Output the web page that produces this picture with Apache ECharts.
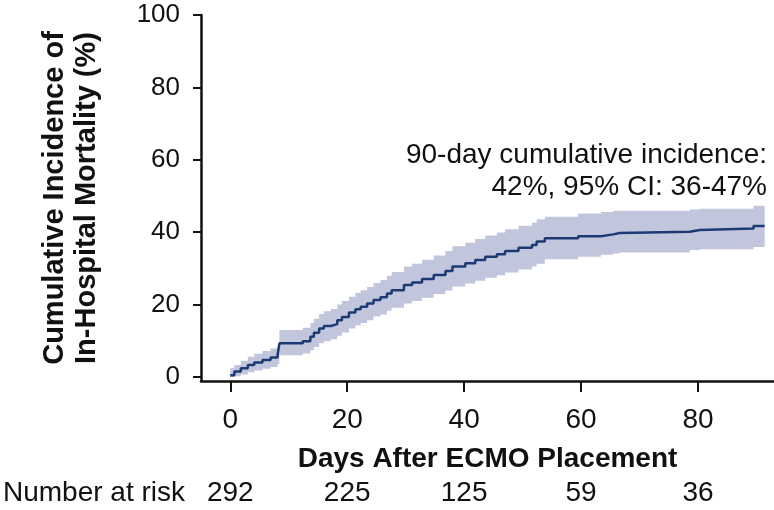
<!DOCTYPE html>
<html>
<head>
<meta charset="utf-8">
<script src="https://cdn.jsdelivr.net/npm/echarts@6/dist/echarts.min.js"></script>
<style>
html,body{margin:0;padding:0;background:#fff;}
#c{width:774px;height:510px;}
</style>
</head>
<body>
<div id="c"></div>
<script>
// Event times (days after ECMO placement)
var times = [0, 0.7, 1.8, 3.0, 4.1, 5.5, 6.9, 8.1, 8.4, 12.4, 13.7, 14.3, 15.2, 16.0, 17.2, 18.3, 19.1, 20.3, 21.4, 22.3, 23.4, 24.5, 25.7, 26.8, 27.6, 29.7, 31.1, 32.8, 34.8, 36.8, 38.0, 40.2, 41.9, 43.6, 45.6, 47.0, 49.3, 51.6, 52.4, 53.8, 59.5, 63.4, 65.5, 66.6, 78.6, 80.3, 89.5, 91.4];
// Cumulative incidence estimate (%)
var estimate = [0.5, 1.5, 2.4, 3.3, 4.0, 4.7, 5.4, 6.1, 9.3, 9.9, 11.1, 12.2, 13.4, 14.1, 14.6, 15.7, 16.6, 17.8, 18.7, 19.4, 20.3, 21.3, 22.0, 23.1, 24.0, 25.4, 26.1, 27.1, 28.2, 29.3, 30.5, 31.4, 32.3, 33.2, 33.9, 34.8, 35.7, 36.5, 37.4, 38.3, 38.9, 39.4, 39.8, 40.1, 40.6, 41.0, 41.7, 41.7];
// 95% CI lower / upper (%)
var ciLower = [0, 0.2, 0.7, 1.3, 1.8, 2.3, 2.8, 3.6, 6.0, 6.5, 7.4, 8.3, 9.3, 9.9, 10.4, 11.4, 12.3, 13.4, 14.3, 14.9, 15.7, 16.7, 17.3, 18.3, 19.1, 20.3, 21.0, 21.9, 22.9, 23.9, 25.0, 25.8, 26.6, 27.4, 28.1, 28.9, 29.7, 30.5, 31.3, 32.5, 33.2, 33.8, 34.1, 34.4, 35.1, 35.3, 35.9, 35.9];
var ciUpper = [2.4, 3.3, 4.5, 5.6, 6.4, 7.2, 7.9, 8.5, 13.0, 13.6, 14.9, 16.1, 17.4, 18.2, 18.8, 20.0, 21.0, 22.2, 23.2, 24.0, 24.9, 26.0, 26.8, 28.0, 29.0, 30.5, 31.3, 32.4, 33.6, 34.8, 36.1, 37.1, 38.1, 39.1, 39.9, 40.8, 41.8, 42.6, 43.6, 44.3, 45.2, 45.6, 45.9, 45.9, 46.3, 46.5, 47.3, 47.3];
// Axis ticks
var xTicks = [0, 20, 40, 60, 80];
var yTicks = [0, 20, 40, 60, 80, 100];
// Number at risk
var riskDays = [0, 20, 40, 60, 80];
var riskCounts = [292, 225, 125, 59, 36];

var FONT = 'Liberation Sans, Arial, sans-serif';

var estData = times.map(function (t, i) { return [t, estimate[i]]; });

function bandItem(params, api) {
  var n = times.length, pts = [], i;
  for (i = 0; i < n; i++) {
    pts.push(api.coord([times[i], ciUpper[i]]));
    if (i + 1 < n) pts.push(api.coord([times[i + 1], ciUpper[i]]));
  }
  for (i = n - 1; i >= 0; i--) {
    if (i + 1 < n) pts.push(api.coord([times[i + 1], ciLower[i]]));
    pts.push(api.coord([times[i], ciLower[i]]));
  }
  return {type: 'polygon', shape: {points: pts}, style: {fill: '#c2c6dd', stroke: null}};
}

var chart = echarts.init(document.getElementById('c'), null, {renderer: 'canvas'});
chart.setOption({
  animation: false,
  backgroundColor: '#fff',
  grid: {left: 200, right: 0, top: 15, bottom: 129, containLabel: false},
  xAxis: [{
    type: 'value', min: -5, max: 93,
    splitLine: {show: false},
    axisLine: {show: true, onZero: false, lineStyle: {color: '#111', width: 2.5}},
    axisTick: {show: true, customValues: xTicks, length: 11, lineStyle: {color: '#111', width: 2}},
    axisLabel: {customValues: xTicks, margin: 25, color: '#111', fontSize: 28, fontFamily: FONT},
    name: 'Days After ECMO Placement', nameLocation: 'middle', nameGap: 64,
    nameTextStyle: {color: '#111', fontSize: 28, fontWeight: 'bold', fontFamily: FONT}
  }, {
    type: 'value', min: -5, max: 93, position: 'bottom', offset: 112,
    splitLine: {show: false},
    axisLine: {show: false, onZero: false}, axisTick: {show: false},
    axisLabel: {
      customValues: riskDays, margin: 0, verticalAlign: 'middle', color: '#111', fontSize: 28, fontFamily: FONT,
      formatter: function (v) { var i = riskDays.indexOf(v); return i >= 0 ? String(riskCounts[i]) : ''; }
    },
    name: 'Number at risk', nameLocation: 'start', nameGap: 16,
    nameTextStyle: {color: '#111', fontSize: 28, fontFamily: FONT, align: 'right', verticalAlign: 'middle'}
  }],
  yAxis: {
    type: 'value', min: -1.1, max: 100,
    splitLine: {show: false},
    axisLine: {show: true, onZero: false, lineStyle: {color: '#111', width: 2.5}},
    axisTick: {show: true, customValues: yTicks, length: 8, lineStyle: {color: '#111', width: 2}},
    axisLabel: {customValues: yTicks, margin: 21, color: '#111', fontSize: 26, fontFamily: FONT},
    name: 'Cumulative Incidence of\nIn-Hospital Mortality (%)', nameLocation: 'middle', nameGap: 98,
    nameTextStyle: {color: '#111', fontSize: 29, fontWeight: 'bold', fontFamily: FONT, lineHeight: 32}
  },
  graphic: [{
    type: 'text', right: 7, top: 141, z: 10,
    style: {text: '90-day cumulative incidence:', fill: '#111', font: '28px ' + FONT}
  }, {
    type: 'text', right: 7, top: 173, z: 10,
    style: {text: '42%, 95% CI: 36-47%', fill: '#111', font: '28px ' + FONT}
  }],
  series: [{
    type: 'custom', xAxisIndex: 0, yAxisIndex: 0, silent: true, z: 1,
    data: [[0, 0]], renderItem: bandItem
  }, {
    type: 'line', xAxisIndex: 0, step: 'end', symbol: 'none', silent: true,
    data: estData, lineStyle: {color: '#1c3a74', width: 2.5}, z: 3
  }]
});
</script>
</body>
</html>
